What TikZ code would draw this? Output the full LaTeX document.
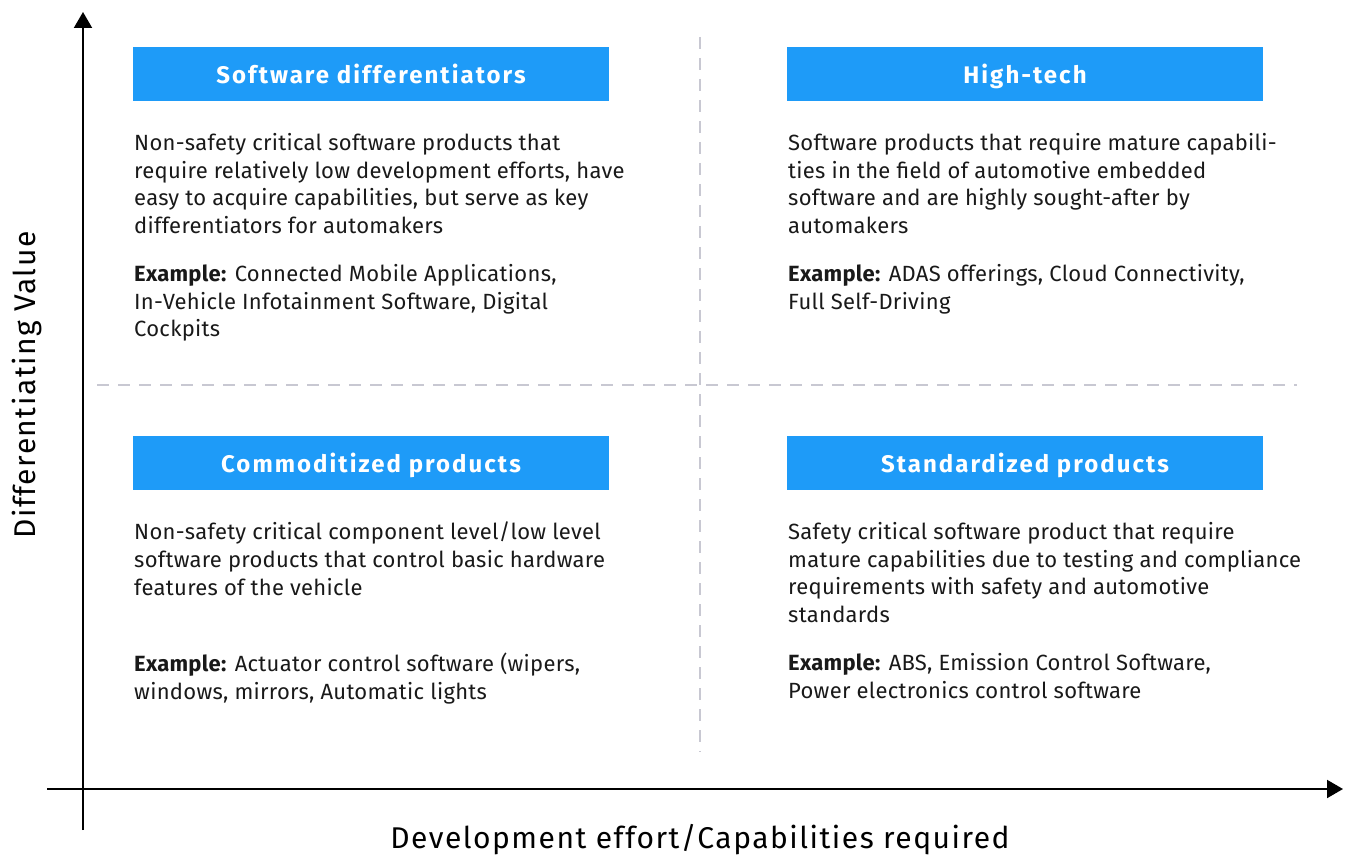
\documentclass[tikz,border=0pt]{standalone}
\usepackage{fontspec}
\setmainfont{Fira Sans}
\newfontfamily\bodyfont[LetterSpace=1.3]{Fira Sans}
\newfontfamily\hdrfont[LetterSpace=8.5]{Fira Sans}
\newfontfamily\labfont[LetterSpace=5]{Fira Sans}
\usetikzlibrary{arrows.meta}
\definecolor{hdrblue}{HTML}{1E9BF8}
\definecolor{dashgray}{HTML}{C8C8D2}
\tikzset{
  x=1pt,y=-1pt,
  hdr/.style={fill=hdrblue,draw=none,text=white,font=\hdrfont\fontsize{24}{28}\selectfont\bfseries,minimum width=476pt,minimum height=54pt,inner sep=0pt,text depth=1pt},
  body/.style={anchor=north west,inner sep=0pt,align=left,font=\bodyfont\fontsize{22}{27.8}\selectfont,text=black!90},
  lab/.style={font=\labfont\fontsize{30}{34}\selectfont,text=black},
  axis/.style={line width=2pt,-{Triangle[length=16pt,width=18pt]}},
  quad/.style={draw=dashgray,line width=2.5pt,dash pattern=on 12pt off 9pt},
}
\begin{document}
\begin{tikzpicture}
\useasboundingbox (0,0) rectangle (1351,858);
% quadrant dashed lines
\coordinate (vt) at (700,37);
\coordinate (vb) at (700,752);
\coordinate (hl) at (97,385);
\coordinate (hr) at (1297,385);
\draw[quad] (vt) -- (vb);
\draw[quad] (hl) -- (hr);
% axes
\coordinate (yb) at (83,830);
\coordinate (yt) at (83,12);
\coordinate (xl) at (47,789);
\coordinate (xr) at (1343,789);
\draw[axis] (yb) -- (yt);
\draw[axis] (xl) -- (xr);
\node[lab,rotate=90] (ylab) at (27,385) {Differentiating Value};
\node[lab] (xlab) at (700,840) {Development effort/Capabilities required};
% headers
\node[hdr] (h1) at (371,74) {Software differentiators};
\node[hdr] (h2) at (1025,74) {High-tech};
\node[hdr] (h3) at (371,463) {Commoditized products};
\node[hdr] (h4) at (1025,463) {Standardized products};
% bodies
\node[body] (b1) at (134,133) {Non-safety critical software products that\\require relatively low development efforts, have\\easy to acquire capabilities, but serve as key\\differentiators for automakers};
\node[body] (e1) at (134,264) {\textbf{Example:} Connected Mobile Applications,\\In-Vehicle Infotainment Software, Digital\\Cockpits};
\node[body] (b2) at (788,133) {Software products that require mature capabili-\\ties in the field of automotive embedded\\software and are highly sought-after by\\automakers};
\node[body] (e2) at (788,264) {\textbf{Example:} ADAS offerings, Cloud Connectivity,\\Full Self-Driving};
\node[body] (b3) at (134,522) {Non-safety critical component level/low level\\software products that control basic hardware\\features of the vehicle};
\node[body] (e3) at (134,653) {\textbf{Example:} Actuator control software (wipers,\\windows, mirrors, Automatic lights};
\node[body] (b4) at (788,522) {Safety critical software product that require\\mature capabilities due to testing and compliance\\requirements with safety and automotive\\standards};
\node[body] (e4) at (788,653) {\textbf{Example:} ABS, Emission Control Software,\\Power electronics control software};
\end{tikzpicture}
\end{document}
